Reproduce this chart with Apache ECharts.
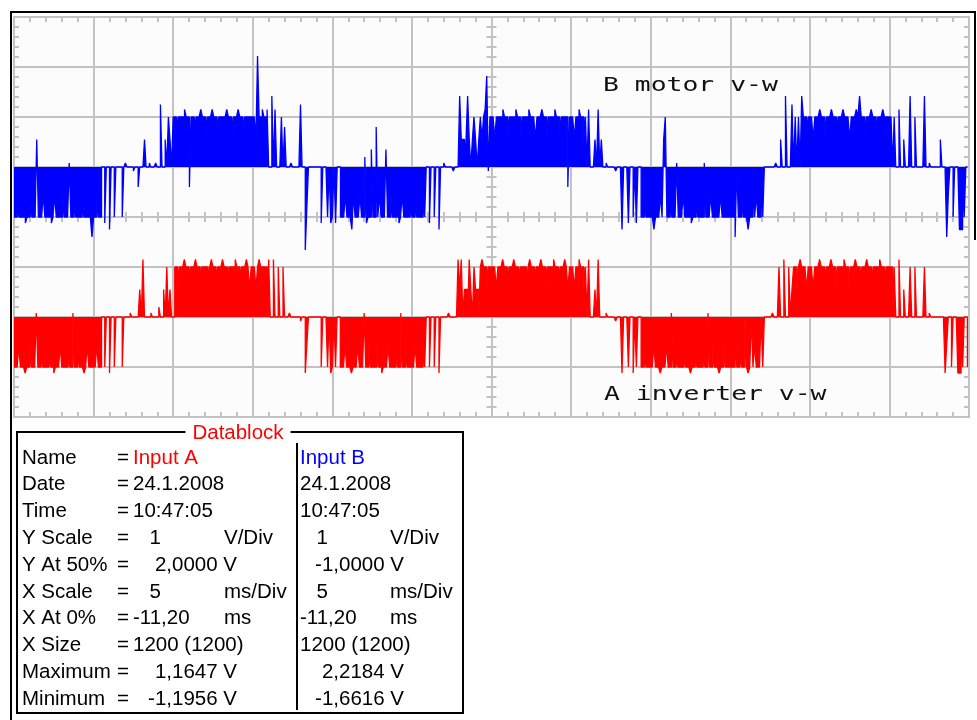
<!DOCTYPE html>
<html>
<head>
<meta charset="utf-8">
<script src="https://cdn.jsdelivr.net/npm/echarts@6/dist/echarts.min.js"></script>
<style>
html, body { margin: 0; padding: 0; background: #fff; }
#scope { width: 977px; height: 720px; }
</style>
</head>
<body>
<div id="scope"></div>
<script>
// scope screen: 12 divisions of 5 ms, starting at -11.20 ms; 8 divisions of 1 V
var xStart = -11.2;
var msPerDiv = 5;

// one character per sample, value in volts
var levelCodes = {
    '0': 0, 'u': 0.08, 'd': -0.08, 'w': 0.2, 'm': 0.35, 'h': 0.55, 'r': 0.8,
    'p': 1.0, 'P': 1.15, 'e': 1.25, 'c': 1.42, 'b': 1.82, 'a': 2.22,
    'q': -0.4, 'l': -0.55, 'k': -0.8, 'n': -1.0, 'N': -1.12, 'i': -1.25,
    'g': -1.4, 'f': -1.66
};

// Input A (inverter v-w), one string per 5 ms division
var inputA = [
    "nnnlnnnNnnlnnnunnlnnnnlnnNnnnlnnnnlnnunnlnnnNnlnnn",
    "nnlnn00n00N00n0000n0000u00000h0P0000u0000w00h0p0h0",
    "0pphpppPpphpppPpphpppphpPpphpppPpphppppPpphpppPphp",
    "pphpPpppp0P00P00p00p000u000000d00Nl00000000n000n0N",
    "n0n00nnnlnnnNnnnlnnnunnlnnnnlnnNnnnlnnnnlnnunnlnnn",
    "nnlnnnnln00n00n00N00000u00000PhP0hh0Ph0phh0pPpphpp",
    "ppphpppPpphpppPpphpppphpPpphpppPpphppppPpphpppPphp",
    "pphppPpphp0P000h0P0000u00000d000N000n00N0n00nnlnnn",
    "nnlnnnNnnnlnnunnlnnnnlnnnNnnlnnnnlnnunnlnnnNnnlnnn",
    "nnn0nnlnn0nNn0nlnnn0n00000u000p00P00p0hpphpPppphp",
    "pphpppPpphpppPpphppppPpphpppPpphpppPpphppppPpphpp",
    "pp0p00P00h000p00p00000p00u00000000dNl00n000NN0n00n"
];

// Input B (motor v-w)
var inputB = [
    "nnlnnnnNnnlnnnhnnnlnnnnNnlnnnnlnnnunnlnnnnlnnnnng",
    "nnlnn00N00i00n0000n0u0000d00q000h00u000u00e00h0ph0",
    "pphppppPppqpphpppPpphpppPpphpppppPpphpppPpphppppp",
    "pphappPppP00c0P000p0r000u00000e00fk00000000N000n0N",
    "n0N00nnnlnnnilnnnlnnwNnnmnnrnlnnnmnnlnnnnNnlnnnnl",
    "nnlnnnnln00N00n00i00u00000d000chh0hch0hph0hphpPbdp",
    "pphppppPpphppppPpphppppPppphpppPpphppppPpphppppqp",
    "pphppPpphp0P000h0P0h00u00000d000i000N00n0N00nnlnnn",
    "nninnnlnhpnnlnnnunnnlnnnnNnnlnnnnunnnlnnnnnlnnnnn",
    "nnng0nnlnnninn0nlnn0n0000000u00h00c000e0p0p0cpphp",
    "pphpppPpphpppPpphpppPppphpppPpcpphpppPpphpppPppp",
    "pp0p00P00h000c00p00000c00u000000h00dgl00n000ii0n00"
];

// datablock text
var blockLabels = ['Name', 'Date', 'Time', 'Y Scale', 'Y At 50%', 'X Scale', 'X At 0%', 'X Size', 'Maximum', 'Minimum'];
var blockA = ['Input A', '24.1.2008', '10:47:05', '1', '2,0000 V', '5', '-11,20', '1200 (1200)', '1,1647 V', '-1,1956 V'];
var blockB = ['Input B', '24.1.2008', '10:47:05', '1', '-1,0000 V', '5', '-11,20', '1200 (1200)', '2,2184 V', '-1,6616 V'];
var blockUnits = ['', '', '', 'V/Div', '', 'ms/Div', 'ms', '', '', ''];

function toSeries(divs) {
    var pts = [];
    divs.forEach(function (s, k) {
        for (var j = 0; j < s.length; j++) {
            pts.push([xStart + msPerDiv * (k + j / s.length), levelCodes[s[j]]]);
        }
    });
    return pts;
}

var gray = '#c2c2c2';
var tickStyle = { color: gray, width: 2 };

// division axes, only used for grid lines and tick marks
function divAxis(min, max, opts) {
    return Object.assign({
        type: 'value', min: min, max: max, interval: 1,
        axisLabel: { show: false },
        axisLine: { show: false, onZero: false },
        axisTick: { show: true, length: 5, inside: true, lineStyle: tickStyle },
        minorTick: { show: true, splitNumber: 5, length: 5, lineStyle: tickStyle },
        splitLine: { show: false }
    }, opts);
}

function trace(name, yIndex, divs, color, z) {
    return {
        name: name, type: 'line', xAxisIndex: 0, yAxisIndex: yIndex,
        data: toSeries(divs), step: 'end', symbol: 'none', z: z,
        lineStyle: { color: color, width: 1.3 },
        itemStyle: { color: color },
        // filled down to the channel zero so the switching blocks are solid
        areaStyle: { color: color, opacity: 1, origin: 'auto' }
    };
}

var myChart = echarts.init(document.getElementById('scope'), null, { renderer: 'canvas' });

var textFont = "20.5px 'Liberation Sans', Arial, sans-serif";
var monoFont = "20px 'DejaVu Sans Mono', monospace";

function txt(x, y, s, color, align) {
    return {
        type: 'text', x: x, y: y, z: 100,
        style: { text: s, fill: color || '#000', font: textFont, align: align || 'left', verticalAlign: 'middle' }
    };
}

// datablock layout
var rowKind = ['text', 'text', 'text', 'scale', 'volt', 'scale', 'text', 'text', 'volt', 'volt'];
var colShift = 167;
var graphics = [
    { type: 'line', shape: { x1: 10, y1: 12, x2: 976, y2: 12 }, style: { stroke: '#000', lineWidth: 2 } },
    { type: 'line', shape: { x1: 11, y1: 11, x2: 11, y2: 720 }, style: { stroke: '#000', lineWidth: 2 } },
    { type: 'line', shape: { x1: 975, y1: 11, x2: 975, y2: 240 }, style: { stroke: '#000', lineWidth: 2 } },
    { type: 'text', x: 603, y: 86, scaleX: 1.32, z: 100,
      style: { text: 'B motor v-w', fill: '#111', font: monoFont, verticalAlign: 'middle' } },
    { type: 'text', x: 604, y: 395, scaleX: 1.32, z: 100,
      style: { text: 'A inverter v-w', fill: '#111', font: monoFont, verticalAlign: 'middle' } },
    { type: 'rect', shape: { x: 17, y: 432, width: 446, height: 281 }, style: { fill: '#fff', stroke: '#000', lineWidth: 2 }, z: 90 },
    { type: 'line', shape: { x1: 297, y1: 443, x2: 297, y2: 710 }, style: { stroke: '#000', lineWidth: 2 }, z: 95 },
    { type: 'text', x: 238, y: 433, z: 100,
      style: { text: 'Datablock', fill: '#ff0000', font: textFont, align: 'center', verticalAlign: 'middle',
               backgroundColor: '#fff', padding: [0, 7] } }
];

blockLabels.forEach(function (lab, r) {
    var y = 458 + r * 26.8;
    var colorA = r === 0 ? '#ff0000' : '#000';
    var colorB = r === 0 ? '#0000ff' : '#000';
    graphics.push(txt(22, y, lab));
    graphics.push(txt(117, y, '='));
    var kind = rowKind[r];
    var ax = kind === 'text' ? 133 : (kind === 'scale' ? 161 : 237);
    var al = kind === 'text' ? 'left' : 'right';
    graphics.push(txt(ax, y, blockA[r], colorA, al));
    graphics.push(txt(ax + colShift, y, blockB[r], colorB, al));
    if (blockUnits[r]) {
        graphics.push(txt(224, y, blockUnits[r]));
        graphics.push(txt(224 + colShift - 1, y, blockUnits[r]));
    }
});

var option = {
    animation: false,
    backgroundColor: '#ffffff',
    grid: {
        show: true, left: 14, top: 17, width: 955, height: 400,
        backgroundColor: '#fcfcfc', borderColor: gray, borderWidth: 2,
        outerBoundsMode: 'none', containLabel: false
    },
    xAxis: [
        { type: 'value', min: xStart, max: xStart + 12 * msPerDiv, show: false },
        divAxis(-6, 6, {
            axisLine: { show: false, onZero: true, onZeroAxisIndex: 2 },
            axisTick: { show: true, length: 5, inside: false, lineStyle: tickStyle },
            splitLine: { show: true, lineStyle: { color: gray, width: 2 } }
        }),
        divAxis(-6, 6, { axisLine: { show: false, onZero: true, onZeroAxisIndex: 2 } }),
        divAxis(-6, 6, { position: 'top' }),
        divAxis(-6, 6, { position: 'bottom' })
    ],
    yAxis: [
        { type: 'value', min: -2, max: 6, show: false },
        { type: 'value', min: -5, max: 3, show: false },
        divAxis(-4, 4, {
            axisLine: { show: false, onZero: true, onZeroAxisIndex: 1 },
            axisTick: { show: true, length: 5, inside: false, lineStyle: tickStyle },
            splitLine: { show: true, lineStyle: { color: gray, width: 2 } }
        }),
        divAxis(-4, 4, { axisLine: { show: false, onZero: true, onZeroAxisIndex: 1 } }),
        divAxis(-4, 4, { position: 'left' }),
        divAxis(-4, 4, { position: 'right' })
    ],
    series: [
        trace('Input A', 0, inputA, '#ff0000', 5),
        trace('Input B', 1, inputB, '#0000ff', 6)
    ],
    graphic: graphics
};

myChart.setOption(option);
</script>
</body>
</html>
